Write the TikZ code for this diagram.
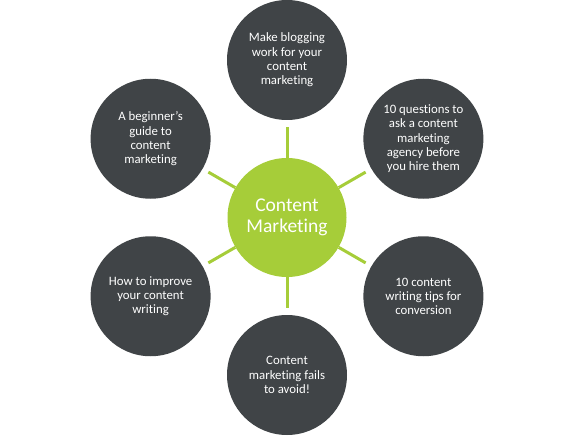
\documentclass[tikz,border=0pt]{standalone}
\usepackage{fontspec}
\setmainfont{Carlito}[Ligatures={NoCommon}]
\definecolor{cmgreen}{RGB}{166,205,57}
\definecolor{cmdark}{RGB}{64,68,71}
\tikzset{
  hub/.style={circle, fill=cmgreen, minimum size=119pt, inner sep=0pt, text=white, align=center,
    font=\fontsize{19.5}{21.5}\selectfont},
  topic/.style={circle, fill=cmdark, minimum size=120pt, inner sep=0pt, text=white, align=center,
    font=\fontsize{12.8}{14.3}\selectfont},
  link/.style={draw=cmgreen, line width=3pt, shorten >=6.5pt}
}
\begin{document}
\begin{tikzpicture}[x=1pt, y=-1pt]
\path[use as bounding box] (0,0) rectangle (574,436);
\node[hub] (c) at (287,217.5) {Content\\Marketing};
\node[topic] (t)  at (287,60) {Make blogging\\work for your\\content\\marketing};
\node[topic] (ur) at (423.4,138.75) {10 questions to\\ask a content\\marketing\\agency before\\you hire them};
\node[topic] (lr) at (423.4,296.25) {10 content\\writing tips for\\conversion};
\node[topic] (b)  at (287,375) {Content\\marketing fails\\to avoid!};
\node[topic] (ll) at (150.6,296.25) {How to improve\\your content\\writing};
\node[topic] (ul) at (150.6,138.75) {A beginner’s\\guide to\\content\\marketing};
\foreach \o in {t,ur,lr,b,ll,ul}{
  \draw[link] (c) -- (\o);
}
\end{tikzpicture}
\end{document}
